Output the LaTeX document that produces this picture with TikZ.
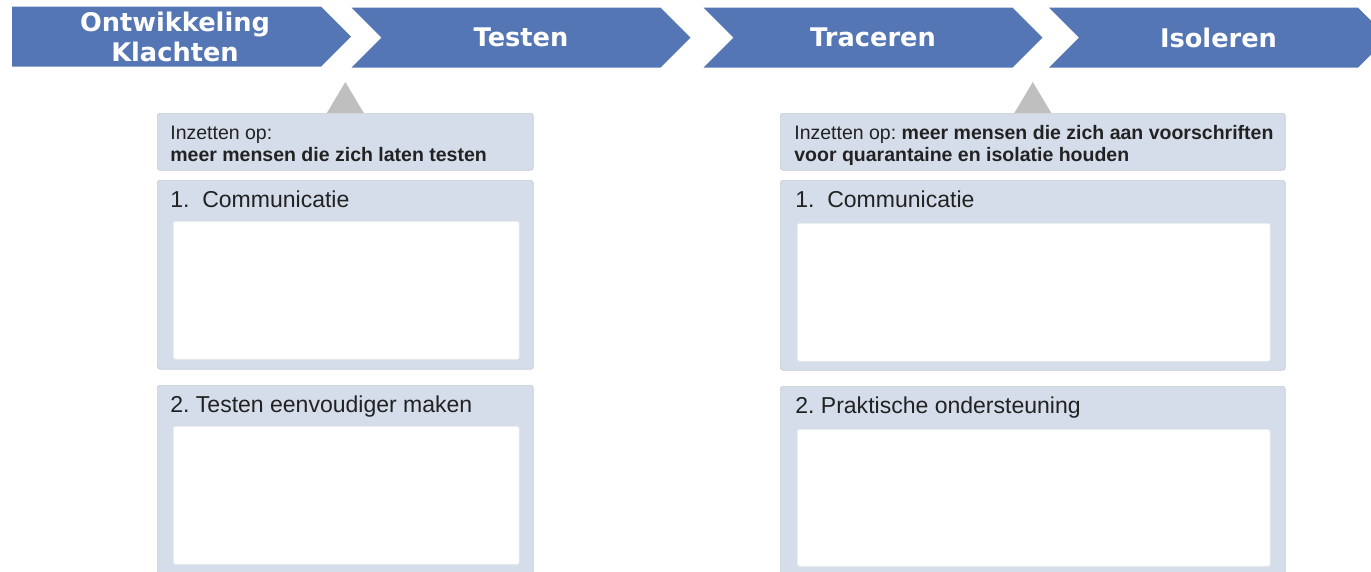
\documentclass[tikz,border=0pt]{standalone}
\usepackage{fontspec}
\setmainfont{Liberation Sans}
\newfontfamily\chevfont{DejaVu Sans}
\frenchspacing
\usepackage{tikz}
\usetikzlibrary{shapes.symbols}

\definecolor{stepblue}{RGB}{84,118,180}
\definecolor{panelfill}{RGB}{213,221,234}
\definecolor{paneledge}{RGB}{200,205,214}
\definecolor{pointergray}{RGB}{191,191,191}
\definecolor{textgray}{RGB}{34,34,34}

\tikzstyle{phase} = [signal, signal to=east, signal pointer angle=90, minimum width=6.78cm, minimum height=1.2cm, inner sep=0pt, fill=stepblue, text=white, align=center, font=\chevfont\bfseries\fontsize{14.6}{17}\selectfont]
\tikzstyle{phasenext} = [phase, signal from=west]
\tikzstyle{panel} = [rectangle, rounded corners=1.5pt, fill=panelfill, draw=paneledge, line width=0.4pt, anchor=north west, inner sep=0pt]
\tikzstyle{field} = [rectangle, rounded corners=1pt, fill=white, draw=white!92!black, line width=0.3pt, anchor=north west, inner sep=0pt]
\tikzstyle{goal} = [anchor=base west, inner sep=0pt, text=textgray, font=\fontsize{11.1}{13}\selectfont]
\tikzstyle{lever} = [anchor=base west, inner sep=0pt, text=textgray, font=\fontsize{13.1}{15}\selectfont]
\tikzstyle{pointer} = [fill=pointergray]

\begin{document}
\begin{tikzpicture}[x=0.02cm, y=-0.02cm]
    \useasboundingbox (0,0) rectangle (1371,571);

    % phases
    \node (klacht) [phase] at (166.5,36.6) {\hspace*{0.34cm}Ontwikkeling\\\hspace*{0.34cm}Klachten};
    \node (test) [phasenext] at (521,37.6) {Testen};
    \node (trace) [phasenext] at (873,37.6) {Traceren};
    \node (isol) [phasenext] at (1218.5,37.6) {Isoleren};

    % panel under Testen
    \node (goalL) [panel, minimum width=7.52cm, minimum height=1.14cm] at (157,113) {};
    \node (commL) [panel, minimum width=7.52cm, minimum height=3.78cm] at (157,180) {};
    \node (easyL) [panel, minimum width=7.52cm, minimum height=3.84cm] at (157,385) {};
    \node (commLbox) [field, minimum width=6.92cm, minimum height=2.76cm] at (173,221) {};
    \node (easyLbox) [field, minimum width=6.92cm, minimum height=2.76cm] at (173,426) {};
    \fill[pointer] (goalL.north) ++(-18.5,0) -- ++(18.5,-31) -- ++(18.5,31) -- cycle;

    \node (goalLa) [goal] at (170,139) {Inzetten op:};
    \node (goalLb) [goal] at (170,161) {\textbf{meer mensen die zich laten testen}};
    \node (commLt) [lever] at (170,207) {1.\ \ Communicatie};
    \node (easyLt) [lever] at (170,412) {2. Testen eenvoudiger maken};

    % panel under Isoleren
    \node (goalR) [panel, minimum width=10.1cm, minimum height=1.14cm] at (780,113) {};
    \node (commR) [panel, minimum width=10.1cm, minimum height=3.8cm] at (780,180) {};
    \node (helpR) [panel, minimum width=10.1cm, minimum height=3.8cm] at (780,386) {};
    \node (commRbox) [field, minimum width=9.46cm, minimum height=2.76cm] at (797,223) {};
    \node (helpRbox) [field, minimum width=9.46cm, minimum height=2.74cm] at (797,429) {};
    \fill[pointer] (goalR.north) ++(-18.5,0) -- ++(18.5,-31) -- ++(18.5,31) -- cycle;

    \node (goalRa) [goal] at (794,139) {Inzetten op: \textbf{meer mensen die zich aan voorschriften}};
    \node (goalRb) [goal] at (794,161) {\textbf{voor quarantaine en isolatie houden}};
    \node (commRt) [lever] at (795,207) {1.\ \ Communicatie};
    \node (helpRt) [lever] at (795,413) {2. Praktische ondersteuning};

\end{tikzpicture}
\end{document}
